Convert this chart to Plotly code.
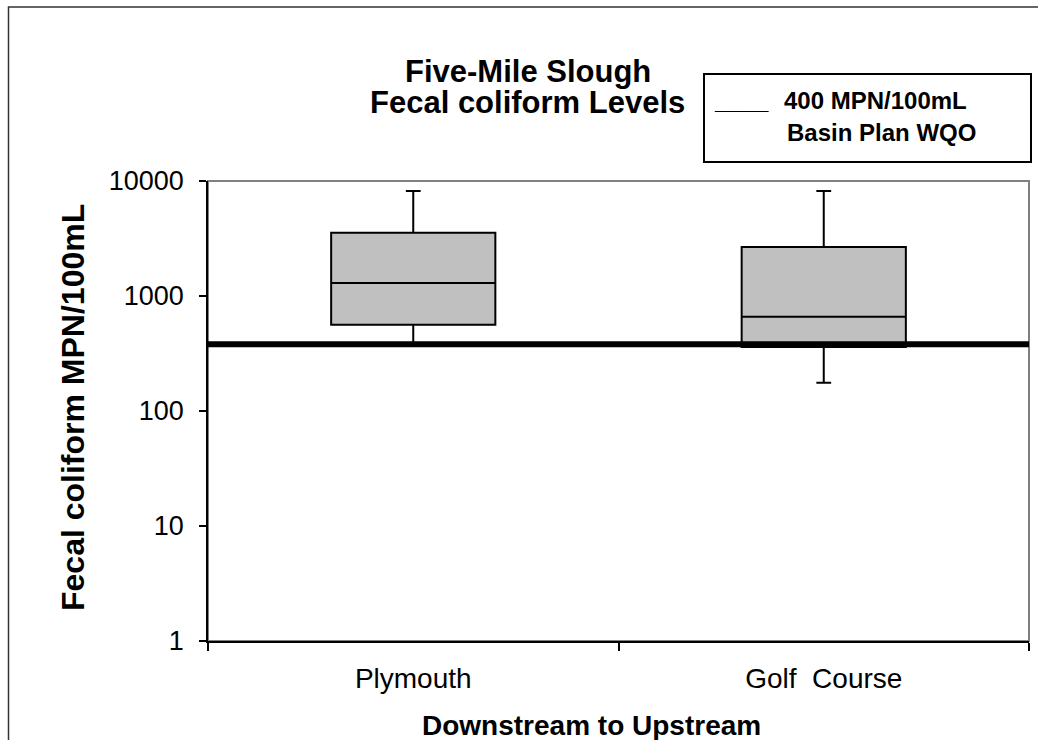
import plotly.graph_objects as go

# ---- data ----
sites = ["Plymouth", "Golf  Course"]
lower_whisker = [380, 176]
q1_values = [563, 360]
median_values = [1300, 660]
q3_values = [3550, 2670]
upper_whisker = [8200, 8200]
threshold_value = 380
y_tick_values = [1, 10, 100, 1000, 10000]
y_tick_labels = ["1", "10", "100", "1000", "10000"]

W, H = 1038, 740
PLOT_L, PLOT_T, PLOT_R, PLOT_B = 208, 181, 1029, 641  # target window pixels
L = PLOT_L
T = PLOT_T
PW = PLOT_R - PLOT_L
PH = PLOT_B - PLOT_T
R = W - L - PW
B = H - T - PH
FONT = "Liberation Sans, Arial, sans-serif"


def px(x):
    return (x - PLOT_L) / PW


def py(y):
    return (PLOT_B - y) / PH


fig = go.Figure()
fig.add_trace(go.Box(
    x=sites,
    q1=q1_values, median=median_values, q3=q3_values,
    lowerfence=lower_whisker, upperfence=upper_whisker,
    fillcolor="#C0C0C0",
    line=dict(color="black", width=2),
    whiskerwidth=0.09,
    width=0.4,
    boxpoints=False,
    hoverinfo="skip",
    showlegend=False,
))
fig.add_trace(go.Scatter(
    x=[0, 1], y=[threshold_value, threshold_value],
    xaxis="x2", yaxis="y",
    mode="lines", line=dict(color="black", width=6),
    hoverinfo="skip", showlegend=False,
))

shapes = [
    dict(type="rect", xref="paper", yref="paper", x0=0, x1=1, y0=0, y1=1,
         line=dict(color="#808080", width=2), layer="below"),
    dict(type="rect", xref="paper", yref="paper", x0=px(8.5), x1=px(1060), y0=py(7), y1=py(770),
         line=dict(color="#333333", width=1.5), layer="below"),
    dict(type="rect", xref="paper", yref="paper", x0=px(704), x1=px(1031), y0=py(74), y1=py(162),
         line=dict(color="black", width=2), fillcolor="white", layer="above"),
]

ann = []


def add_text(text, x, y, size, xanchor="center", angle=0):
    ann.append(dict(text=text, x=px(x), y=py(y), xref="paper", yref="paper",
                    showarrow=False, xanchor=xanchor, yanchor="middle", textangle=angle,
                    font=dict(family=FONT, size=size, color="black")))


add_text("<b>Five-Mile Slough</b>", 528, 71, 31)
add_text("<b>Fecal coliform Levels</b>", 527, 102, 31)
add_text("<b>____</b>", 712, 101, 24, xanchor="left")
add_text("<b>400 MPN/100mL</b>", 782, 101, 24, xanchor="left")
add_text("<b>Basin Plan WQO</b>", 785, 132, 24, xanchor="left")
add_text("<b>Fecal coliform MPN/100mL</b>", 73, 408, 32, angle=-90)
add_text("<b>Downstream to Upstream</b>", 591, 725, 28)

fig.update_layout(
    width=W, height=H,
    margin=dict(l=L, r=R, t=T, b=B, pad=0),
    paper_bgcolor="white", plot_bgcolor="white",
    showlegend=False,
    hovermode=False,
    shapes=shapes,
    annotations=ann,
    xaxis=dict(
        type="category", categoryorder="array", categoryarray=sites,
        range=[-0.5, 1.5], tickson="boundaries",
        showline=True, linecolor="black", linewidth=1.5,
        ticks="outside", ticklen=8, tickwidth=1.5, tickcolor="black",
        showgrid=False, zeroline=False,
        tickfont=dict(family=FONT, size=28, color="black"),
        ticklabelstandoff=12,
    ),
    xaxis2=dict(overlaying="x", range=[0, 1], visible=False, fixedrange=True),
    yaxis=dict(
        type="log", range=[0, 4],
        tickvals=y_tick_values, ticktext=y_tick_labels,
        showline=True, linecolor="black", linewidth=1.5,
        ticks="outside", ticklen=7, tickwidth=1.5, tickcolor="black",
        showgrid=False, zeroline=False,
        tickfont=dict(family=FONT, size=27, color="black"),
        ticklabelstandoff=10,
    ),
)

fig.write_html(
    "out.html",
    config={"displayModeBar": False},
    post_script=(
        "document.documentElement.style.margin='0';"
        "document.documentElement.style.overflow='hidden';"
        "document.body.style.margin='0';"
        "document.body.style.overflow='hidden';"
    ),
)
